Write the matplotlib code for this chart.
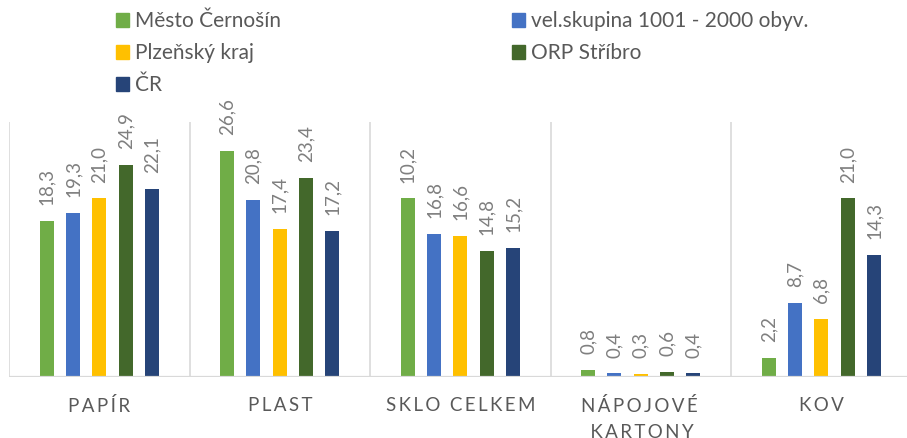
import matplotlib
matplotlib.use('Agg')
import matplotlib.pyplot as plt
from matplotlib.patches import Rectangle
import numpy as np

plt.rcParams['font.family'] = ['Lato', 'DejaVu Sans']

categories = ['PAPÍR', 'PLAST', 'SKLO CELKEM', 'NÁPOJOVÉ\nKARTONY', 'KOV']
series = ['Město Černošín', 'vel.skupina 1001 - 2000 obyv.', 'Plzeňský kraj',
          'ORP Stříbro', 'ČR']
colors = ['#70AD47', '#4472C4', '#FFC000', '#43682B', '#264478']

# bar heights as drawn in the picture
mesto = [18.3, 26.6, 21.0, 0.8, 2.2]
skupina = [19.3, 20.8, 16.8, 0.4, 8.7]
plzen = [21.0, 17.4, 16.6, 0.3, 6.8]
orp = [24.9, 23.4, 14.8, 0.6, 21.0]
cr = [22.1, 17.2, 15.2, 0.4, 14.3]

# data label texts as printed in the picture
mesto_lbl = ['18,3', '26,6', '10,2', '0,8', '2,2']
skupina_lbl = ['19,3', '20,8', '16,8', '0,4', '8,7']
plzen_lbl = ['21,0', '17,4', '16,6', '0,3', '6,8']
orp_lbl = ['24,9', '23,4', '14,8', '0,6', '21,0']
cr_lbl = ['22,1', '17,2', '15,2', '0,4', '14,3']

values = [mesto, skupina, plzen, orp, cr]
labels = [mesto_lbl, skupina_lbl, plzen_lbl, orp_lbl, cr_lbl]

W, H = 907, 439
fig = plt.figure(figsize=(W / 100, H / 100), dpi=100)
ax = fig.add_axes([9 / W, 1 - 377.7 / H, 902.5 / W, 255 / H])

x = np.arange(len(categories))
step = 0.146
width = 0.078
for i, (vals, lbls) in enumerate(zip(values, labels)):
    pos = x + (i - 2) * step
    bars = ax.bar(pos, vals, width, color=colors[i], zorder=2)
    for b, t in zip(bars, lbls):
        ax.annotate(t, (b.get_x() + b.get_width() / 2, b.get_height()),
                    xytext=(0, 12), textcoords='offset points',
                    rotation=90, ha='center', va='bottom',
                    fontsize=13.5, color='#7F7F7F', annotation_clip=False)

ax.set_xlim(-0.5, 4.5)
ax.set_ylim(0, 30)
for s in ax.spines.values():
    s.set_visible(False)
for xs in np.arange(-0.5, 5, 1.0):
    ax.axvline(xs, color='#D9D9D9', lw=1.2, zorder=1)
ax.axhline(0, color='#D9D9D9', lw=1.6, zorder=3)
ax.set_yticks([])
ax.set_xticks(x)
ax.set_xticklabels(['\u2009'.join(c) for c in categories], fontsize=13.5,
                   color='#595959', linespacing=1.6)
ax.tick_params(axis='x', length=0, pad=14)

# legend
for i, name in enumerate(series):
    col, row = i % 2, i // 2
    lx = 116 + col * 396
    ly = 21 + row * 32
    fig.patches.append(Rectangle((lx / W, 1 - (ly + 7) / H), 13 / W, 14 / H,
                                 transform=fig.transFigure, color=colors[i]))
    fig.text((lx + 19) / W, 1 - ly / H, name, fontsize=15, color='#595959',
             va='center', ha='left')

fig.savefig('out.png', dpi=100)
